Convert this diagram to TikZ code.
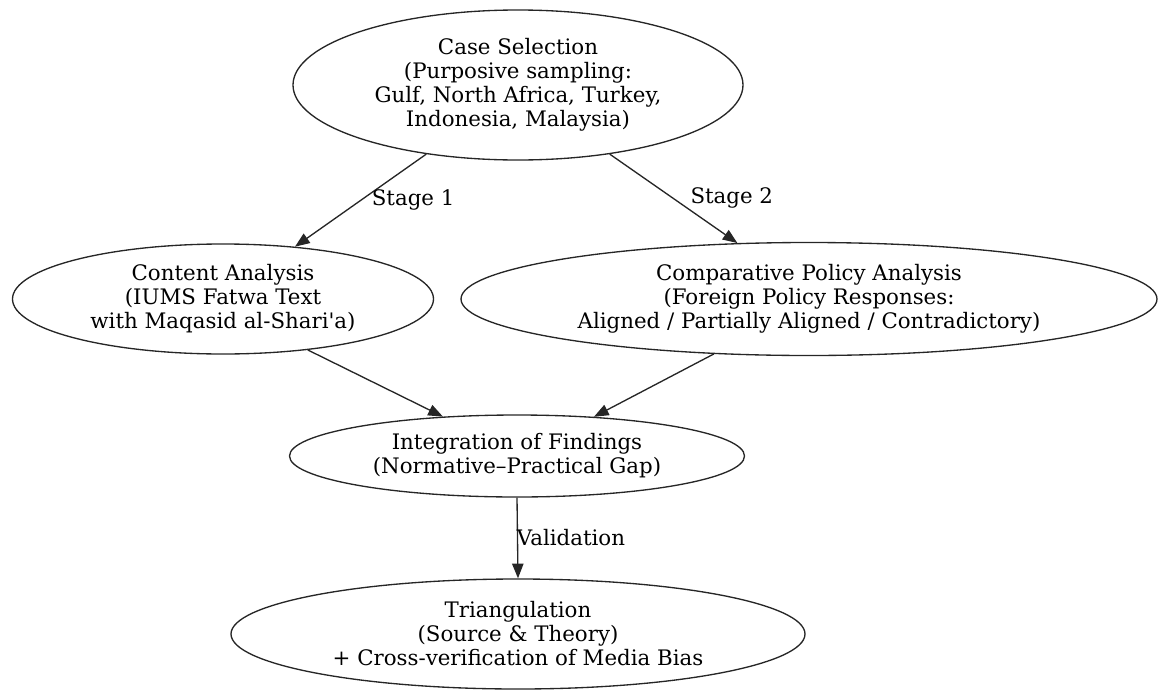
\documentclass[tikz,border=0pt]{standalone}
\usepackage{fontspec}
\setmainfont{DejaVu Serif}
\usetikzlibrary{shapes.geometric,arrows.meta}
\tikzset{
  stagebox/.style={ellipse,draw=black!85,line width=1pt,inner sep=0pt,align=center,
    font=\fontsize{16}{18}\selectfont},
  flow/.style={draw=black!85,line width=1pt,-{Triangle[length=11pt,width=8.5pt]}},
  edgelabel/.style={font=\fontsize{16}{18}\selectfont,inner sep=0pt}
}
\begin{document}
\begin{tikzpicture}[x=0.75pt,y=-0.75pt]
  \useasboundingbox (0,0) rectangle (1160,689);
  % stages
  \node[stagebox,minimum width=450*0.75pt,minimum height=150*0.75pt] (cases) at (518,85)
    {Case Selection\\(Purposive sampling:\\Gulf, North Africa, Turkey,\\Indonesia, Malaysia)};
  \node[stagebox,minimum width=421*0.75pt,minimum height=110*0.75pt] (content) at (223,299)
    {Content Analysis\\(IUMS Fatwa Text\\with Maqasid al-Shari\textquotesingle a)};
  \node[stagebox,minimum width=696*0.75pt,minimum height=113*0.75pt] (policy) at (809,299)
    {Comparative Policy Analysis\\(Foreign Policy Responses:\\Aligned / Partially Aligned / Contradictory)};
  \node[stagebox,minimum width=455*0.75pt,minimum height=82*0.75pt] (merge) at (517,456)
    {Integration of Findings\\(Normative--Practical Gap)};
  \node[stagebox,minimum width=574*0.75pt,minimum height=110*0.75pt] (triang) at (518,634)
    {Triangulation\\(Source \& Theory)\\+ Cross-verification of Media Bias};
  % connectors
  \draw[flow] (cases.217) -- (content.36)
    node[edgelabel,pos=0.45,anchor=west,xshift=3pt,yshift=-3pt] {Stage 1};
  \draw[flow] (cases.323) -- (policy.142)
    node[edgelabel,pos=0.45,anchor=west,xshift=17pt,yshift=-3pt] {Stage 2};
  \draw[flow] (content.329) -- (merge.152);
  \draw[flow] (policy.210) -- (merge.27);
  \draw[flow] (merge.south) -- (triang.north)
    node[edgelabel,midway,anchor=west,xshift=-1pt] {Validation};
\end{tikzpicture}
\end{document}
